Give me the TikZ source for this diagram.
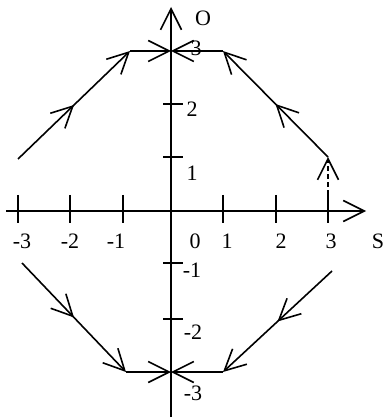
\documentclass[tikz,border=0pt]{standalone}
\usepackage{fontspec}
\setmainfont{Liberation Serif}
\usetikzlibrary{arrows.meta,decorations.markings}
\begin{document}
\begin{tikzpicture}[x=1pt,y=-1pt,
  >={Straight Barb[length=21pt,width=21pt]},
  ln/.style={line width=1.6pt},
  midarrow/.style={postaction={decorate},decoration={markings,mark=at position 0.5 with {\arrow{>}}}},
  lbl/.style={font=\fontsize{22}{24}\selectfont, inner sep=0pt},
  dashline/.style={dash pattern=on 5pt off 3pt}]
\useasboundingbox (0,0) rectangle (385,419);
% axes
\coordinate (xs) at (6,211);
\coordinate (xe) at (366,211);
\coordinate (ys) at (171,417);
\coordinate (ye) at (171,7);
\draw[ln,->] (xs) -- (xe);
\draw[ln,->] (ys) -- (ye);
% x ticks
\foreach \x in {18,70,123,223,276,328} \draw[ln] (\x,195) -- (\x,223);
% y ticks
\foreach \y in {157,104,263,319} \draw[ln] (163,\y) -- (183,\y);
% x labels
\node[lbl] (lxm3) at (22,241) {-3};
\node[lbl] (lxm2) at (70,241) {-2};
\node[lbl] (lxm1) at (116,241) {-1};
\node[lbl] (lx0) at (195,241) {0};
\node[lbl] (lx1) at (227,241) {1};
\node[lbl] (lx2) at (281,241) {2};
\node[lbl] (lx3) at (331,241) {3};
\node[lbl] (lS) at (378,241) {S};
% y labels
\node[lbl] (lO) at (203,18) {O};
\node[lbl] (ly3) at (196,48) {3};
\node[lbl] (ly2) at (192,109) {2};
\node[lbl] (ly1) at (192,173) {1};
\node[lbl] (lym1) at (192,270) {-1};
\node[lbl] (lym2) at (193,332) {-2};
\node[lbl] (lym3) at (193,393) {-3};
% trajectory points
\coordinate (A1) at (18,159);
\coordinate (A2) at (130,51);
\coordinate (T) at (171,51);
\coordinate (B0) at (328,211);
\coordinate (B1) at (328,157);
\coordinate (B2) at (223,51);
\coordinate (C1) at (22,263);
\coordinate (C2) at (126,372);
\coordinate (Bt) at (171,372);
\coordinate (D1) at (332,271);
\coordinate (D2) at (223,372);
% upper left
\draw[ln,midarrow,->] (A1) -- (A2);
\draw[ln,->] (A2) -- (T);
% upper right
\draw[ln,dashline,->] (B0) -- (B1);
\draw[ln,midarrow,->] (B1) -- (B2);
\draw[ln,->] (B2) -- (T);
% lower left
\draw[ln,midarrow,->] (C1) -- (C2);
\draw[ln,->] (C2) -- (Bt);
% lower right
\draw[ln,midarrow,->] (D1) -- (D2);
\draw[ln,->] (D2) -- (Bt);
\end{tikzpicture}
\end{document}
